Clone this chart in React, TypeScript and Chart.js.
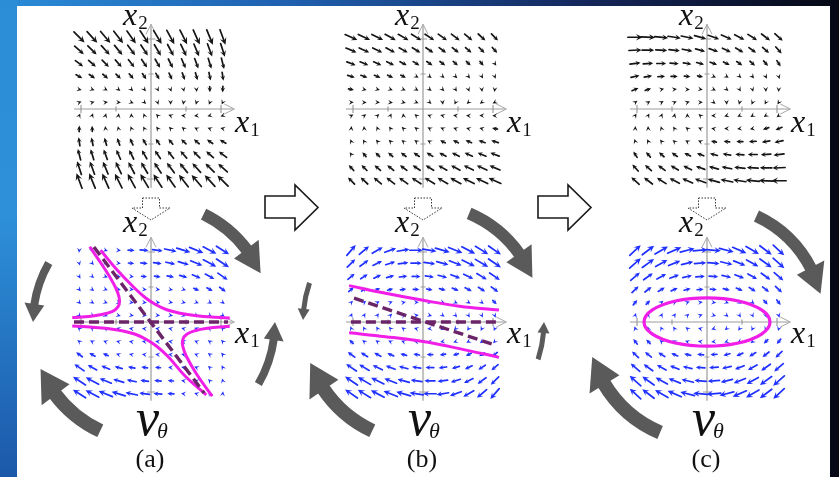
import React, { useEffect, useRef } from 'react';
import { Chart, registerables } from 'chart.js';

Chart.register(...registerables);

const W = 839;
const H = 477;

// ---------------- data ----------------
// sample positions of the quiver grids (same for x1 and x2)
const gridValues = [-2.05, -1.68, -1.3, -0.93, -0.56, -0.19, 0.19, 0.56, 0.93, 1.3, 1.68, 2.05];
const axisTickValues = [-2, -1, 1, 2];
const panelCaptions = ['(a)', '(b)', '(c)'];

// vector-field terms read from the arrows: [coefficient, power of x1, power of x2]
const topFieldA_u = [[-0.3, 1, 0], [1, 0, 1]];
const topFieldA_v = [[-0.3, 1, 0], [-1.6, 0, 1]];
const topFieldB_u = [[-0.3, 1, 0], [1, 0, 1]];
const topFieldB_v = [[-0.06, 1, 0], [-0.64, 0, 1]];
const topFieldC_u = [[-0.3, 1, 0], [1, 0, 1]];
const topFieldC_v = [[-0.315, 1, 0], [-0.315, 0, 1]];
const vThetaA_u = [[1, 0, 1], [0.25, 1, 2]];
const vThetaA_v = [[-0.1, 0, 1], [-0.106, 1, 2], [-0.18, 2, 1]];
const vThetaB_u = [[1, 0, 1], [0.08, 1, 2]];
const vThetaB_v = [[-0.22, 1, 0], [-0.15, 1, 2], [-0.08, 0, 1]];
const vThetaC_u = [[1, 0, 1]];
const vThetaC_v = [[-0.3, 1, 0], [-0.15, 1, 2]];

// magenta curves and dashed lines, (x1, x2)
const hypUpperLeft = [[-1.75, 2.15], [-1.31, 1.5], [-1.02, 1.0], [-0.91, 0.7], [-0.91, 0.5], [-1.02, 0.35], [-1.25, 0.25], [-1.61, 0.18], [-2.14, 0.13], [-2.25, 0.125]];
const hypUpperRight = [[-1.44, 2.05], [-0.98, 1.5], [-0.5, 1.0], [-0.17, 0.7], [0.13, 0.5], [0.45, 0.35], [0.83, 0.25], [1.3, 0.18], [1.85, 0.135], [2.25, 0.115]];
const hypLowerLeft = [[-2.25, -0.115], [-1.85, -0.135], [-1.3, -0.18], [-0.83, -0.25], [-0.45, -0.35], [-0.13, -0.5], [0.17, -0.7], [0.5, -1.0], [0.98, -1.55], [1.58, -2.08]];
const hypLowerRight = [[2.25, -0.125], [2.14, -0.13], [1.61, -0.18], [1.25, -0.25], [1.02, -0.35], [0.91, -0.5], [0.91, -0.7], [1.02, -1.0], [1.31, -1.5], [1.75, -2.12]];
const dashA_axis = [[-2.2, 0], [2.2, 0]];
const dashA_diag = [[-1.63, 2.14], [1.52, -2.03]];

const bandB_upper = [[-2.11, 1.04], [-1.07, 0.82], [0, 0.62], [1.04, 0.45], [2.17, 0.34]];
const bandB_lower = [[-2.11, -0.31], [-1.07, -0.42], [0, -0.56], [1.04, -0.76], [2.17, -1.01]];
const dashB_axis = [[-2.06, 0], [2.1, 0]];
const dashB_diag = [[-1.97, 0.68], [2.03, -0.65]];

// ellipse points (closed, with one overlapping point at each end)
const ellipseC = [
  [1.56, -0.345], [1.8, 0], [1.56, 0.345], [0.9, 0.6], [0, 0.69], [-0.9, 0.6], [-1.56, 0.345],
  [-1.8, 0], [-1.56, -0.345], [-0.9, -0.6], [0, -0.69], [0.9, -0.6], [1.56, -0.345], [1.8, 0], [1.56, 0.345],
];

// ---------------- layout / style ----------------
const PANEL_CX = [151, 423, 707];
const ROW_CY = [109, 322];
const UNIT = 35;
const GRAY = '#5a5a5a';
const MAGENTA = '#f01ee6';
const PURPLE = '#6c2468';
const BLUE = '#1f30ff';
const BLACK = '#151515';
const SERIF = '"Liberation Serif", "Times New Roman", "DejaVu Serif", serif';

const fields = [
  { u: topFieldA_u, v: topFieldA_v, color: BLACK, scale: 4.0, max: 16 },
  { u: topFieldB_u, v: topFieldB_v, color: BLACK, scale: 4.6, max: 16 },
  { u: topFieldC_u, v: topFieldC_v, color: BLACK, scale: 5.5, max: 16 },
  { u: vThetaA_u, v: vThetaA_v, color: BLUE, scale: 4.5, max: 15 },
  { u: vThetaB_u, v: vThetaB_v, color: BLUE, scale: 6.5, max: 15 },
  { u: vThetaC_u, v: vThetaC_v, color: BLUE, scale: 7.0, max: 15 },
];

// curved grey arrows around the v_theta panels: bottom panel column, radius px, angles deg
const arcArrows = [
  { col: 0, r: 120, a0: -64, a1: -24, body: 12, headW: 31, headLen: 28 },
  { col: 0, r: 118, a0: -150, a1: -180, body: 8, headW: 20, headLen: 18 },
  { col: 0, r: 120, a0: 115, a1: 157, body: 14, headW: 35, headLen: 30 },
  { col: 0, r: 124, a0: 30, a1: 0, body: 8, headW: 20, headLen: 18 },
  { col: 1, r: 118, a0: -67, a1: -22, body: 12, headW: 31, headLen: 28 },
  { col: 1, r: 120, a0: -161, a1: -179, body: 5, headW: 12, headLen: 11 },
  { col: 1, r: 120, a0: 115, a1: 160, body: 14, headW: 35, headLen: 30 },
  { col: 1, r: 121, a0: 18, a1: 0, body: 5, headW: 12, headLen: 11 },
  { col: 2, r: 117, a0: -65, a1: -14, body: 12, headW: 31, headLen: 28 },
  { col: 2, r: 120, a0: 113, a1: 163, body: 14, headW: 35, headLen: 30 },
];
const BIG_ARROW_LEFT = [265, 538];

function evalPoly(terms: number[][], x1: number, x2: number) {
  let s = 0;
  for (const [c, p, q] of terms) s += c * Math.pow(x1, p) * Math.pow(x2, q);
  return s;
}

function quiverData(f: { u: number[][]; v: number[][] }) {
  const out: any[] = [];
  for (const x2 of gridValues) {
    for (const x1 of gridValues) {
      out.push({ x: x1, y: x2, u: evalPoly(f.u, x1, x2), v: evalPoly(f.v, x1, x2) });
    }
  }
  return out;
}

const pts = (a: number[][]) => a.map(([x, y]) => ({ x, y }));

function lineSet(panel: number, data: number[][], color: string, width: number, dash: number[] = [], extra: any = {}) {
  return {
    type: 'scatter',
    data: pts(data),
    xAxisID: 'x' + panel,
    yAxisID: 'y' + panel,
    showLine: true,
    borderColor: color,
    borderWidth: width,
    borderDash: dash,
    tension: 0.4,
    pointRadius: 0,
    fill: false,
    ...extra,
  };
}

function drawArrowGlyph(ctx: CanvasRenderingContext2D, px: number, py: number, dx: number, dy: number, L: number) {
  const hl = Math.max(5, Math.min(7, 0.45 * L));
  const len = Math.max(L, hl);
  const tx = px + (dx * len) / 2, ty = py + (dy * len) / 2;
  const bx = px - (dx * len) / 2, by = py - (dy * len) / 2;
  const hw = hl * 0.48;
  const nx = -dy, ny = dx;
  const baseX = tx - dx * hl, baseY = ty - dy * hl;
  if (len > hl + 0.5) {
    ctx.beginPath();
    ctx.moveTo(bx, by);
    ctx.lineTo(tx - dx * hl * 0.5, ty - dy * hl * 0.5);
    ctx.stroke();
  }
  ctx.beginPath();
  ctx.moveTo(tx, ty);
  ctx.lineTo(baseX + nx * hw, baseY + ny * hw);
  ctx.lineTo(tx - dx * hl * 0.6, ty - dy * hl * 0.6);
  ctx.lineTo(baseX - nx * hw, baseY - ny * hw);
  ctx.closePath();
  ctx.fill();
}

function drawAxes(ctx: CanvasRenderingContext2D, xs: any, ys: any) {
  const X = (v: number) => xs.getPixelForValue(v);
  const Y = (v: number) => ys.getPixelForValue(v);
  ctx.save();
  ctx.strokeStyle = '#9c9c9c';
  ctx.lineWidth = 1.2;
  ctx.beginPath();
  ctx.moveTo(X(-2.2), Y(0));
  ctx.lineTo(X(2.38), Y(0));
  ctx.moveTo(X(0), Y(-2.25));
  ctx.lineTo(X(0), Y(2.42));
  for (const t of axisTickValues) {
    const h = Math.abs(t) === 2 ? 4 : 2.5;
    ctx.moveTo(X(t), Y(0) - h);
    ctx.lineTo(X(t), Y(0) + h);
    ctx.moveTo(X(0) - h, Y(t));
    ctx.lineTo(X(0) + h, Y(t));
  }
  ctx.stroke();
  ctx.strokeStyle = '#a8a8a8';
  ctx.lineWidth = 1;
  const ex = X(2.38), ey = Y(0);
  ctx.beginPath();
  ctx.moveTo(ex - 10, ey - 5);
  ctx.lineTo(ex, ey);
  ctx.lineTo(ex - 10, ey + 5);
  const tx = X(0), ty = Y(2.42);
  ctx.moveTo(tx - 5, ty + 10);
  ctx.lineTo(tx, ty);
  ctx.lineTo(tx + 5, ty + 10);
  ctx.stroke();
  ctx.restore();
}

function drawArcArrow(ctx: CanvasRenderingContext2D, cx: number, cy: number, a: any) {
  const a0 = (a.a0 * Math.PI) / 180, a1 = (a.a1 * Math.PI) / 180;
  const dir = a1 > a0 ? 1 : -1;
  const ah = a1 - (dir * a.headLen) / a.r;
  ctx.save();
  ctx.strokeStyle = GRAY;
  ctx.fillStyle = GRAY;
  ctx.lineWidth = a.body;
  ctx.lineCap = 'butt';
  ctx.beginPath();
  ctx.arc(cx, cy, a.r, a0, ah + (dir * 1.5) / a.r, dir < 0);
  ctx.stroke();
  const nx = Math.cos(ah), ny = Math.sin(ah);
  const bx = cx + a.r * nx, by = cy + a.r * ny;
  const tipX = cx + a.r * Math.cos(a1), tipY = cy + a.r * Math.sin(a1);
  ctx.beginPath();
  ctx.moveTo(bx + (nx * a.headW) / 2, by + (ny * a.headW) / 2);
  ctx.lineTo(tipX, tipY);
  ctx.lineTo(bx - (nx * a.headW) / 2, by - (ny * a.headW) / 2);
  ctx.closePath();
  ctx.fill();
  ctx.restore();
}

function drawXLabel(ctx: CanvasRenderingContext2D, x: number, y: number, sub: string) {
  ctx.font = 'italic 32px ' + SERIF;
  ctx.fillText('x', x, y);
  const w = ctx.measureText('x').width;
  ctx.font = '19px ' + SERIF;
  ctx.fillText(sub, x + w + 1, y + 4);
}

const figurePlugin = {
  id: 'figure',
  beforeDraw(chart: any) {
    const ctx: CanvasRenderingContext2D = chart.ctx;
    ctx.save();
    const g = ctx.createLinearGradient(0, 0, W, 0);
    g.addColorStop(0, '#2a8cd8');
    g.addColorStop(0.35, '#1f5fae');
    g.addColorStop(0.7, '#14265a');
    g.addColorStop(1, '#060914');
    ctx.fillStyle = g;
    ctx.fillRect(0, 0, W, H);
    const gl = ctx.createLinearGradient(0, 0, 0, H);
    gl.addColorStop(0, '#2b8dd6');
    gl.addColorStop(0.45, '#2d90d8');
    gl.addColorStop(1, '#1c58aa');
    ctx.fillStyle = gl;
    ctx.fillRect(0, 0, 17, H);
    ctx.fillStyle = '#ffffff';
    ctx.fillRect(17, 6, 813, H - 6);
    ctx.restore();
  },
  beforeDatasetsDraw(chart: any) {
    const ctx: CanvasRenderingContext2D = chart.ctx;
    for (let i = 0; i < 6; i++) drawAxes(ctx, chart.scales['x' + i], chart.scales['y' + i]);
    chart.data.datasets.forEach((ds: any) => {
      if (!ds.quiver) return;
      const xs = chart.scales[ds.xAxisID], ys = chart.scales[ds.yAxisID];
      ctx.save();
      ctx.strokeStyle = ds.quiver.color;
      ctx.fillStyle = ds.quiver.color;
      ctx.lineWidth = 1.7;
      ctx.lineCap = 'round';
      ctx.lineJoin = 'round';
      for (const p of ds.data) {
        const m = Math.hypot(p.u, p.v);
        if (m < 1e-6) continue;
        const L = Math.min(ds.quiver.max, ds.quiver.scale * m);
        drawArrowGlyph(ctx, xs.getPixelForValue(p.x), ys.getPixelForValue(p.y), p.u / m, -p.v / m, L);
      }
      ctx.restore();
    });
  },
  afterDatasetsDraw(chart: any) {
    const ctx: CanvasRenderingContext2D = chart.ctx;
    ctx.save();
    // grey rotation arrows
    for (const a of arcArrows) {
      const i = 3 + a.col;
      const cx = chart.scales['x' + i].getPixelForValue(0);
      const cy = chart.scales['y' + i].getPixelForValue(0);
      drawArcArrow(ctx, cx, cy, a);
    }
    // big outline arrows
    ctx.lineWidth = 1.6;
    ctx.strokeStyle = '#1a1a1a';
    ctx.fillStyle = '#ffffff';
    for (const x0 of BIG_ARROW_LEFT) {
      ctx.beginPath();
      ctx.moveTo(x0, 196);
      ctx.lineTo(x0 + 30, 196);
      ctx.lineTo(x0 + 30, 185);
      ctx.lineTo(x0 + 53, 207.5);
      ctx.lineTo(x0 + 30, 230);
      ctx.lineTo(x0 + 30, 218);
      ctx.lineTo(x0, 218);
      ctx.closePath();
      ctx.fill();
      ctx.stroke();
    }
    // dotted down arrows
    ctx.lineWidth = 1;
    ctx.strokeStyle = '#333';
    ctx.setLineDash([1.5, 1.5]);
    for (let c = 0; c < 3; c++) {
      const cx = chart.scales['x' + c].getPixelForValue(0);
      ctx.beginPath();
      ctx.moveTo(cx - 8.5, 198);
      ctx.lineTo(cx + 8.5, 198);
      ctx.lineTo(cx + 8.5, 208);
      ctx.lineTo(cx + 19, 208);
      ctx.lineTo(cx, 220);
      ctx.lineTo(cx - 19, 208);
      ctx.lineTo(cx - 8.5, 208);
      ctx.closePath();
      ctx.stroke();
    }
    ctx.setLineDash([]);
    // text
    ctx.fillStyle = '#111';
    ctx.textBaseline = 'alphabetic';
    for (let c = 0; c < 3; c++) {
      const cxT = chart.scales['x' + c].getPixelForValue(0);
      const cyT = chart.scales['y' + c].getPixelForValue(0);
      const cxB = chart.scales['x' + (c + 3)].getPixelForValue(0);
      const cyB = chart.scales['y' + (c + 3)].getPixelForValue(0);
      ctx.textAlign = 'left';
      drawXLabel(ctx, cxT - 28, cyT - 84, '2');
      drawXLabel(ctx, cxT + 84, cyT + 23, '1');
      drawXLabel(ctx, cxB - 28, cyB - 90, '2');
      drawXLabel(ctx, cxB + 84, cyB + 21, '1');
      // v_theta
      ctx.font = 'italic 52px ' + SERIF;
      const vx = cxB - 15;
      ctx.fillText('v', vx, 435);
      const vw = ctx.measureText('v').width;
      ctx.font = 'italic 22px ' + SERIF;
      ctx.fillText('θ', vx + vw - 2, 438);
      // caption
      ctx.font = '26px ' + SERIF;
      ctx.textAlign = 'center';
      ctx.fillText(panelCaptions[c], cxB - 1, 467);
    }
    ctx.restore();
  },
};

function buildScales() {
  const s: any = {
    x: { type: 'linear', display: false },
    y: { type: 'linear', display: false },
  };
  for (let i = 0; i < 6; i++) {
    const cx = PANEL_CX[i % 3];
    const cy = ROW_CY[Math.floor(i / 3)];
    s['x' + i] = { type: 'linear', axis: 'x', display: false, min: -cx / UNIT, max: (W - cx) / UNIT };
    s['y' + i] = { type: 'linear', axis: 'y', display: false, min: -(H - cy) / UNIT, max: cy / UNIT };
  }
  return s;
}

function buildDatasets() {
  const ds: any[] = [];
  // earlier datasets are painted on top
  ds.push(lineSet(3, dashA_axis, PURPLE, 3.4, [10, 5], { tension: 0 }));
  ds.push(lineSet(3, dashA_diag, PURPLE, 3.4, [10, 5], { tension: 0 }));
  ds.push(lineSet(4, dashB_axis, PURPLE, 3.4, [10, 5], { tension: 0 }));
  ds.push(lineSet(4, dashB_diag, PURPLE, 3.4, [10, 5], { tension: 0 }));
  ds.push(lineSet(3, hypUpperLeft, MAGENTA, 3));
  ds.push(lineSet(3, hypUpperRight, MAGENTA, 3));
  ds.push(lineSet(3, hypLowerLeft, MAGENTA, 3));
  ds.push(lineSet(3, hypLowerRight, MAGENTA, 3));
  ds.push(lineSet(4, bandB_upper, MAGENTA, 3));
  ds.push(lineSet(4, bandB_lower, MAGENTA, 3));
  const n = ellipseC.length;
  ds.push(
    lineSet(5, ellipseC, MAGENTA, 3.2, [], {
      segment: {
        borderColor: (c: any) => (c.p0DataIndex === 0 || c.p1DataIndex === n - 1 ? 'rgba(0,0,0,0)' : MAGENTA),
      },
    })
  );
  fields.forEach((f, i) => {
    ds.push({
      type: 'scatter',
      data: quiverData(f),
      xAxisID: 'x' + i,
      yAxisID: 'y' + i,
      pointRadius: 0,
      showLine: false,
      quiver: { color: f.color, scale: f.scale, max: f.max },
    });
  });
  return ds;
}

export default function App() {
  const ref = useRef<HTMLCanvasElement>(null);
  useEffect(() => {
    if (!ref.current) return;
    const chart = new Chart(ref.current, {
      type: 'scatter',
      data: { datasets: buildDatasets() as any },
      options: {
        animation: false,
        responsive: true,
        maintainAspectRatio: false,
        events: [],
        layout: { padding: 0 },
        plugins: { legend: { display: false }, tooltip: { enabled: false }, title: { display: false } },
        scales: buildScales(),
      } as any,
      plugins: [figurePlugin as any],
    });
    return () => chart.destroy();
  }, []);
  return (
    <div style={{ position: 'fixed', left: 0, top: 0, width: W, height: H }}>
      <canvas ref={ref} />
    </div>
  );
}
